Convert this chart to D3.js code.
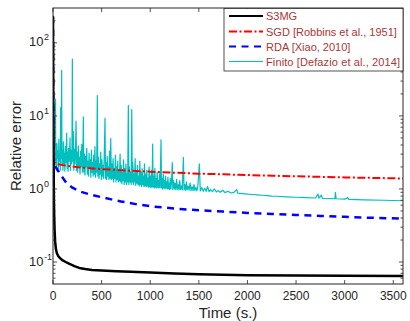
<!DOCTYPE html>
<html>
<head>
<meta charset="utf-8">
<script src="https://cdn.jsdelivr.net/npm/d3@7"></script>
<style>
  body { margin: 0; background: #fff; }
  svg text { font-family: "Liberation Sans", Arial, Helvetica, sans-serif; fill: #262626; }
</style>
</head>
<body>
<div id="chart"></div>
<script>
// values: [time (s), relative error]
var s3mg = [[0,230],[3,20],[6,3],[9,0.8],[12,0.45],[16,0.28],[22,0.19],[30,0.15],[40,0.132],[55,0.12],[75,0.112],[100,0.105],[130,0.1],[170,0.094],[220,0.088],[270,0.083],[330,0.08],[400,0.078],[500,0.0765],[650,0.075],[800,0.0735],[1000,0.0718],[1250,0.0698],[1500,0.068],[1750,0.0668],[2000,0.066],[2500,0.0652],[3000,0.0647],[3600,0.0645]];

var sgd = [[0,230],[2,25],[4,4.5],[7,2.8],[12,2.4],[20,2.25],[50,2.18],[100,2.12],[200,2.03],[300,1.96],[500,1.87],[750,1.79],[1000,1.72],[1250,1.67],[1500,1.62],[1750,1.585],[2000,1.55],[2250,1.52],[2500,1.49],[2750,1.465],[3000,1.44],[3300,1.415],[3600,1.39]];

var rda = [[0,230],[2,25],[4,4.5],[7,2.8],[12,2.3],[20,2.1],[35,1.92],[55,1.75],[75,1.6],[100,1.42],[140,1.2],[200,1.04],[280,0.92],[380,0.84],[500,0.77],[600,0.72],[700,0.675],[850,0.62],[1000,0.58],[1250,0.54],[1500,0.51],[1750,0.49],[2000,0.47],[2250,0.455],[2500,0.44],[2750,0.428],[3000,0.415],[3300,0.402],[3600,0.392]];

var finito = [[0,240],[2,120],[4,15],[6,4.5],[8,3.2],[12,2.4],[16,3.8],[20,2.0],[24,4.5],[26,17],[28,2.5],[32,3.6],[36,1.9],[40,4.2],[45,2.6],[50,3.3],[55,1.9],[60,4.8],[65,2.4],[70,3.0],[75,1.8],[79,13],[83,2.6],[87,3.9],[89,42],[92,2.2],[97,3.4],[102,1.8],[107,4.4],[112,2.2],[117,3.1],[122,1.75],[127,3.8],[132,2.3],[137,4.0],[141,5.8],[145,1.9],[150,3.2],[155,1.75],[160,3.6],[165,2.4],[170,2.9],[175,5.0],[180,1.8],[185,3.4],[190,2.2],[195,3.0],[199,60],[203,2.4],[209,6.1],[214,1.8],[220,3.5],[225,2.2],[230,2.8],[237,8.5],[242,1.8],[248,3.2],[254,1.7],[260,3.9],[266,2.1],[272,2.7],[278,1.6],[284,3.3],[290,2.0],[296,4.1],[302,1.7],[307,2.6],[312,9.7],[317,1.7],[323,3.0],[329,1.55],[335,2.8],[341,2.0],[347,3.6],[353,1.6],[359,2.4],[365,1.5],[371,3.1],[377,1.9],[383,2.5],[389,1.45],[395,3.4],[401,1.7],[407,2.3],[413,1.5],[419,2.9],[425,1.6],[431,3.8],[437,1.45],[443,2.4],[449,1.7],[456,19],[461,1.5],[467,2.7],[473,1.4],[479,2.2],[485,1.6],[491,3.2],[497,1.35],[503,2.5],[509,1.5],[515,2.1],[521,1.4],[527,2.9],[535,9.3],[540,1.4],[546,2.3],[552,1.35],[558,2.8],[564,1.5],[570,2.0],[576,1.35],[582,3.3],[588,1.4],[594,4.9],[600,1.35],[606,2.2],[612,1.4],[618,2.6],[624,1.25],[630,1.9],[636,1.4],[642,2.9],[648,1.25],[654,2.0],[660,1.35],[666,2.4],[672,1.25],[678,1.8],[684,1.3],[690,3.0],[696,1.25],[702,2.1],[708,1.18],[714,1.7],[720,1.3],[726,2.5],[732,1.15],[738,1.9],[744,1.25],[750,2.2],[756,1.15],[762,1.6],[768,1.25],[775,14],[780,1.15],[786,2.0],[792,1.25],[798,1.7],[804,1.15],[810,12.2],[815,1.25],[821,2.3],[827,1.15],[833,1.6],[839,1.25],[845,2.6],[851,1.12],[857,1.8],[863,1.2],[869,2.1],[875,1.15],[881,1.5],[887,1.1],[893,2.4],[899,1.15],[905,1.7],[911,1.08],[917,1.9],[923,1.15],[929,1.5],[935,1.08],[941,2.2],[947,1.1],[953,1.6],[959,1.07],[965,1.8],[971,1.1],[977,1.4],[983,1.06],[989,2.0],[995,1.07],[1001,1.5],[1007,1.04],[1013,1.8],[1019,1.07],[1025,4.1],[1030,1.06],[1036,1.5],[1042,1.03],[1048,1.9],[1054,1.06],[1060,1.4],[1066,1.03],[1072,1.7],[1078,1.06],[1084,1.3],[1090,1.03],[1096,1.6],[1102,1.05],[1111,4.7],[1116,1.03],[1122,1.4],[1128,1.0],[1134,1.6],[1140,1.03],[1146,1.3],[1152,1.0],[1158,1.5],[1164,1.03],[1170,1.25],[1176,1.0],[1182,1.45],[1188,1.0],[1194,1.2],[1200,0.99],[1206,1.4],[1212,1.0],[1218,1.2],[1227,2.3],[1232,0.99],[1240,1.3],[1248,0.99],[1256,1.2],[1264,0.98],[1272,1.35],[1280,0.99],[1288,1.15],[1296,0.97],[1304,1.3],[1312,0.98],[1320,1.1],[1330,0.97],[1341,2.7],[1348,0.97],[1356,1.15],[1364,0.96],[1372,1.25],[1380,0.97],[1390,1.1],[1400,0.96],[1410,1.2],[1420,0.95],[1430,1.08],[1440,0.95],[1450,1.15],[1460,0.95],[1470,1.05],[1480,0.94],[1490,1.1],[1505,2.2],[1515,0.94],[1530,1.05],[1545,0.93],[1560,1.02],[1575,0.93],[1590,1.08],[1605,0.92],[1620,0.98],[1640,0.92],[1660,1.0],[1680,0.91],[1700,0.95],[1720,0.9],[1745,0.96],[1770,0.89],[1800,0.93],[1830,0.88],[1860,0.9],[1890,0.98],[1900,0.875],[1950,0.865],[2000,0.85],[2050,0.84],[2100,0.83],[2150,0.82],[2200,0.81],[2250,0.8],[2300,0.795],[2400,0.78],[2500,0.77],[2600,0.76],[2700,0.752],[2725,0.85],[2735,0.75],[2760,0.82],[2770,0.745],[2900,0.735],[2905,0.9],[2912,0.735],[3000,0.725],[3034,0.76],[3040,0.722],[3200,0.71],[3400,0.70],[3600,0.69]];

var xTicks = [0, 500, 1000, 1500, 2000, 2500, 3000, 3500];
var yTicks = [0.1, 1, 10, 100];
var yExp = ["-1", "0", "1", "2"];
var legendNames = ["S3MG", "SGD [Robbins et al., 1951]", "RDA [Xiao, 2010]", "Finito [Defazio et al., 2014]"];

var W = 410, H = 321;
var margin = {top: 8, right: 7, bottom: 37, left: 53};
var width = W - margin.left - margin.right;
var height = H - margin.top - margin.bottom;

var x = d3.scaleLinear().domain([0, 3600]).range([0, width]);
var y = d3.scaleLog().domain([0.05, 300]).range([height, 0]);

var svg = d3.select("#chart").append("svg")
    .attr("width", W).attr("height", H);

svg.append("defs").append("clipPath").attr("id", "clip")
    .append("rect").attr("width", width).attr("height", height);

var g = svg.append("g")
    .attr("transform", "translate(" + margin.left + "," + margin.top + ")");

var line = d3.line()
    .x(function(d) { return x(d[0]); })
    .y(function(d) { return y(d[1]); });

var plot = g.append("g").attr("clip-path", "url(#clip)");

var series = [
  {data: finito, color: "#00bfbf", w: 1.2, dash: null},
  {data: sgd, color: "#ff0000", w: 2, dash: "8,2.5,2,2.5"},
  {data: rda, color: "#0000ff", w: 2.5, dash: "7,5.5"},
  {data: s3mg, color: "#000000", w: 2.5, dash: null}
];

series.forEach(function(s) {
  plot.append("path")
    .datum(s.data)
    .attr("fill", "none")
    .attr("stroke", s.color)
    .attr("stroke-width", s.w)
    .attr("stroke-dasharray", s.dash)
    .attr("stroke-linejoin", "round")
    .attr("d", line);
});

// ticks (inside, on all four sides)
var axisColor = "#262626";
var minor = [];
[0.01, 0.1, 1, 10, 100].forEach(function(dec) {
  for (var k = 2; k <= 9; k++) {
    var v = dec * k;
    if (v > 0.05 && v < 300) minor.push(v);
  }
});

var ticks = g.append("g").attr("stroke", axisColor).attr("stroke-width", 0.8);
xTicks.forEach(function(t) {
  ticks.append("line").attr("x1", x(t)).attr("x2", x(t)).attr("y1", height).attr("y2", height - 4);
  ticks.append("line").attr("x1", x(t)).attr("x2", x(t)).attr("y1", 0).attr("y2", 4);
});
yTicks.forEach(function(t) {
  ticks.append("line").attr("x1", 0).attr("x2", 4).attr("y1", y(t)).attr("y2", y(t));
  ticks.append("line").attr("x1", width).attr("x2", width - 4).attr("y1", y(t)).attr("y2", y(t));
});
minor.forEach(function(t) {
  ticks.append("line").attr("x1", 0).attr("x2", 2.5).attr("y1", y(t)).attr("y2", y(t));
  ticks.append("line").attr("x1", width).attr("x2", width - 2.5).attr("y1", y(t)).attr("y2", y(t));
});

g.append("rect")
  .attr("width", width).attr("height", height)
  .attr("fill", "none").attr("stroke", axisColor).attr("stroke-width", 1);

// tick labels
g.selectAll(".xl").data(xTicks).enter().append("text")
  .attr("x", function(d) { return x(d); })
  .attr("y", height + 16)
  .attr("text-anchor", "middle")
  .attr("font-size", "12px")
  .text(function(d) { return d; });

yTicks.forEach(function(t, i) {
  g.append("text")
    .attr("x", -9.5)
    .attr("y", y(t) + 3.6)
    .attr("text-anchor", "end")
    .attr("font-size", "13px")
    .text("10");
  g.append("text")
    .attr("x", -9)
    .attr("y", y(t) - 2.4)
    .attr("text-anchor", "start")
    .attr("font-size", "9px")
    .text(yExp[i]);
});

// axis titles
svg.append("text")
  .attr("x", margin.left + width / 2)
  .attr("y", 318)
  .attr("text-anchor", "middle")
  .attr("font-size", "15px")
  .text("Time (s.)");

svg.append("text")
  .attr("transform", "translate(20.5," + (margin.top + height / 2) + ") rotate(-90)")
  .attr("text-anchor", "middle")
  .attr("font-size", "15px")
  .text("Relative error");

// legend
var leg = svg.append("g");
leg.append("rect")
  .attr("x", 224).attr("y", 8.5).attr("width", 179).attr("height", 62.5)
  .attr("fill", "#fff").attr("stroke", axisColor).attr("stroke-width", 0.8);

var legRows = [16, 31.5, 46.5, 61.5];
var legOrder = [3, 1, 2, 0];
legendNames.forEach(function(name, i) {
  var s = series[legOrder[i]];
  leg.append("line")
    .attr("x1", 229).attr("x2", 263)
    .attr("y1", legRows[i]).attr("y2", legRows[i])
    .attr("stroke", s.color)
    .attr("stroke-width", s.w < 2 ? 1 : 2)
    .attr("stroke-dasharray", s.dash);
  leg.append("text")
    .attr("x", 266)
    .attr("y", legRows[i] + 4)
    .attr("font-size", "11px")
    .attr("textLength", i === 3 ? 134 : null)
    .style("fill", "#a83838")
    .text(name);
});
</script>
</body>
</html>
